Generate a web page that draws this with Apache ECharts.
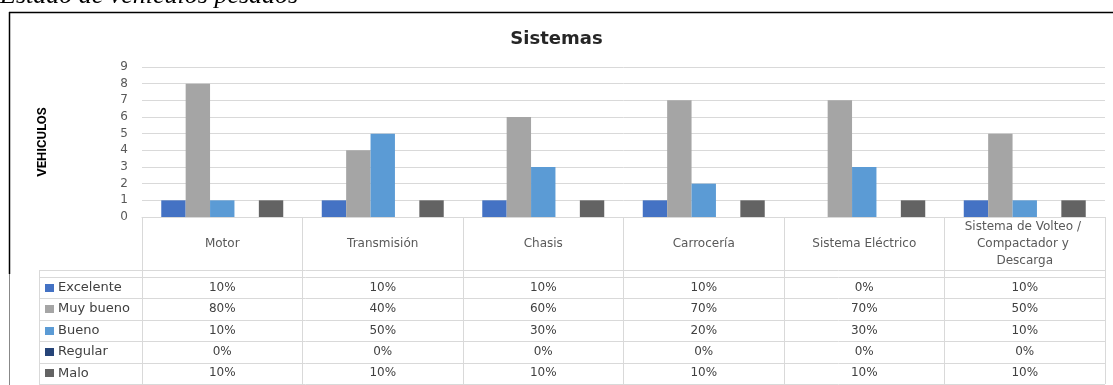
<!DOCTYPE html>
<html style="height: 100%; width: 100%">
  <head>
    <meta charset="utf-8" />
  </head>
  <body style="height: 100%; width: 100%; margin: 0; background: #fff">
    <div id="chart-panel" style="height: 385px; width: 1113px"></div>
    <script
      type="text/javascript"
      src="https://cdn.jsdelivr.net/npm/echarts@6/dist/echarts.min.js"
    ></script>
    <script type="text/javascript">
      var categories = [
        "Motor",
        "Transmisión",
        "Chasis",
        "Carrocería",
        "Sistema Eléctrico",
        "Sistema de Volteo / Compactador y Descarga",
      ];
      var seriesNames = ["Excelente", "Muy bueno", "Bueno", "Regular", "Malo"];
      var colors = ["#4472c4", "#a5a5a5", "#5b9bd5", "#264478", "#636363"];

      // cantidad de vehiculos por sistema
      var excelente = [1, 1, 1, 1, 0, 1];
      var muyBueno = [8, 4, 6, 7, 7, 5];
      var bueno = [1, 5, 3, 2, 3, 1];
      var regular = [0, 0, 0, 0, 0, 0];
      var malo = [1, 1, 1, 1, 1, 1];

      // tabla de datos (porcentajes)
      var pctExcelente = ["10%", "10%", "10%", "10%", "0%", "10%"];
      var pctMuyBueno = ["80%", "40%", "60%", "70%", "70%", "50%"];
      var pctBueno = ["10%", "50%", "30%", "20%", "30%", "10%"];
      var pctRegular = ["0%", "0%", "0%", "0%", "0%", "0%"];
      var pctMalo = ["10%", "10%", "10%", "10%", "10%", "10%"];

      var yMin = 0;
      var yMax = 9;
      var yStep = 1;

      var values = [excelente, muyBueno, bueno, regular, malo];
      var pcts = [pctExcelente, pctMuyBueno, pctBueno, pctRegular, pctMalo];

      var lineColor = "#d9d9d9";
      var textColor = "#595959";

      var dom = document.getElementById("chart-panel");
      var myChart = echarts.init(dom, null, { renderer: "canvas" });

      var series = seriesNames.map(function (name, i) {
        return {
          name: name,
          type: "bar",
          data: values[i],
          barGap: "0%",
          barCategoryGap: "24%",
          itemStyle: { color: colors[i] },
        };
      });

      var option = {
        animation: false,
        backgroundColor: "#fff",
        title: {
          text: "Sistemas",
          left: "center",
          top: 25,
          textStyle: {
            fontFamily: "DejaVu Sans",
            fontWeight: "bold",
            fontSize: 18,
            color: "#262626",
          },
        },
        grid: {
          left: 142,
          right: 8,
          top: 67,
          bottom: 168,
          outerBoundsMode: "none",
        },
        xAxis: {
          type: "category",
          data: categories,
          axisLine: { show: true, lineStyle: { color: lineColor } },
          axisTick: {
            show: true,
            interval: 0,
            length: 167,
            lineStyle: { color: lineColor },
          },
          axisLabel: {
            interval: 0,
            margin: 27,
            verticalAlign: "middle",
            width: 150,
            overflow: "break",
            lineHeight: 17,
            fontFamily: "DejaVu Sans",
            fontSize: 12,
            color: textColor,
          },
        },
        yAxis: {
          type: "value",
          min: yMin,
          max: yMax,
          interval: yStep,
          name: "VEHICULOS",
          nameLocation: "middle",
          nameRotate: 90,
          nameGap: 93,
          nameTextStyle: {
            fontFamily: "Roboto",
            fontWeight: "bold",
            fontSize: 13,
            color: "#000",
          },
          axisLine: { show: false },
          axisTick: { show: false },
          splitLine: { lineStyle: { color: lineColor } },
          axisLabel: {
            margin: 14,
            fontFamily: "DejaVu Sans",
            fontSize: 12,
            color: textColor,
          },
        },
        series: series,
      };

      if (option && typeof option === "object") {
        myChart.setOption(option);
      }

      // tabla de datos debajo del grafico
      var cx = categories.map(function (c) {
        return myChart.convertToPixel({ xAxisIndex: 0 }, c);
      });
      var band = cx[1] - cx[0];
      var xRight = cx[cx.length - 1] + band / 2;
      var y0 = myChart.convertToPixel({ yAxisIndex: 0 }, 0);
      var tableLeft = 39;
      var rowH = 21.4;
      var firstRow = y0 + 60;
      var graphics = [];

      function hline(y, x1, x2, color, w) {
        graphics.push({
          type: "line",
          silent: true,
          shape: { x1: x1, y1: y, x2: x2, y2: y },
          style: { stroke: color, lineWidth: w || 1 },
        });
      }

      hline(Math.round(y0 + 53) + 0.5, tableLeft, xRight, lineColor);
      for (var r = 0; r <= seriesNames.length; r++) {
        hline(Math.round(firstRow + r * rowH) + 0.5, tableLeft, xRight, lineColor);
      }
      graphics.push({
        type: "line",
        silent: true,
        shape: {
          x1: tableLeft + 0.5,
          y1: Math.round(y0 + 53),
          x2: tableLeft + 0.5,
          y2: Math.round(firstRow + seriesNames.length * rowH) + 1,
        },
        style: { stroke: lineColor, lineWidth: 1 },
      });

      seriesNames.forEach(function (name, i) {
        var yc = firstRow + i * rowH + rowH / 2;
        graphics.push({
          type: "rect",
          silent: true,
          shape: { x: 45, y: Math.round(yc - 4), width: 9, height: 8 },
          style: { fill: colors[i] },
        });
        graphics.push({
          type: "text",
          silent: true,
          x: 58,
          y: yc,
          style: {
            text: name,
            font: "13px 'DejaVu Sans'",
            fill: "#404040",
            verticalAlign: "middle",
          },
        });
        pcts[i].forEach(function (p, j) {
          graphics.push({
            type: "text",
            silent: true,
            x: cx[j],
            y: yc,
            style: {
              text: p,
              font: "12px 'DejaVu Sans'",
              fill: "#404040",
              align: "center",
              verticalAlign: "middle",
            },
          });
        });
      });

      // encabezado del documento y marco
      graphics.push({
        type: "text",
        silent: true,
        x: 0,
        y: -4,
        style: {
          text: "Estado de vehículos pesados",
          font: "italic 26px 'Liberation Serif'",
          fill: "#000",
          verticalAlign: "middle",
        },
      });
      graphics.push({
        type: "line",
        silent: true,
        shape: { x1: 9, y1: 12.5, x2: 1113, y2: 12.5 },
        style: { stroke: "#000", lineWidth: 1.5 },
      });
      graphics.push({
        type: "line",
        silent: true,
        shape: { x1: 9.5, y1: 12, x2: 9.5, y2: 274 },
        style: { stroke: "#000", lineWidth: 1.5 },
      });
      graphics.push({
        type: "line",
        silent: true,
        shape: { x1: 9.5, y1: 274, x2: 9.5, y2: 385 },
        style: { stroke: "#888", lineWidth: 1 },
      });

      myChart.setOption({ graphic: graphics });
    </script>
  </body>
</html>
